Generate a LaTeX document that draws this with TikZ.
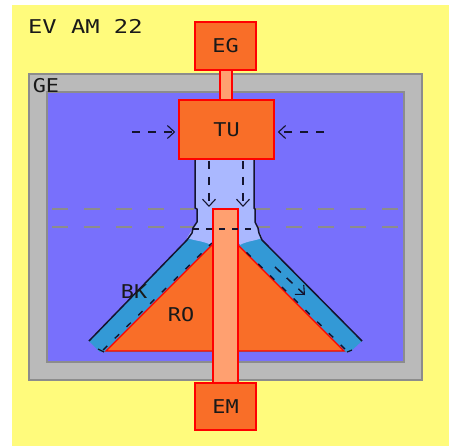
\documentclass[tikz,border=0pt]{standalone}
\usepackage{fontspec}
\usetikzlibrary{arrows.meta}
\newfontfamily\pixfont[FakeStretch=1.15]{DejaVu Sans Mono}
\definecolor{bgY}{HTML}{FFFB7C}
\definecolor{wallF}{HTML}{BABABA}
\definecolor{wallD}{HTML}{8C8C8C}
\definecolor{fieldB}{HTML}{7870FC}
\definecolor{tubeL}{HTML}{AAB8FF}
\definecolor{bandB}{HTML}{3399D6}
\definecolor{orng}{HTML}{F96E28}
\definecolor{salm}{HTML}{FFA070}
\definecolor{inkD}{HTML}{14142E}
\tikzset{
  x=1pt,y=-1pt,
  lbl/.style={font=\pixfont\fontsize{19}{21}\selectfont,text=black!90,inner sep=0pt},
  obox/.style={draw=red,line width=1.6pt,fill=orng,inner sep=0pt,lbl},
  neck/.style={draw=red,line width=1.6pt,fill=salm},
  flow/.style={draw=inkD,line width=1.5pt,dash pattern=on 8pt off 8pt,-{Straight Barb[length=7pt,width=13pt,line width=1.1pt]}},
  gdash/.style={draw=wallD,line width=1.6pt,dash pattern=on 16pt off 16pt},
  sdash/.style={draw=inkD,line width=1.4pt,dash pattern=on 6pt off 10.5pt},
  wallline/.style={draw=inkD,line width=1.5pt,line join=round}
}
\begin{document}
\begin{tikzpicture}
\useasboundingbox (0,0) rectangle (449,446);
\fill[bgY] (12,5) rectangle (449,446);
% wall and field
\draw[draw=wallD,line width=1.4pt,fill=wallF] (29,74) rectangle (422,380);
\draw[draw=wallD,line width=1.4pt,fill=fieldB] (47,92) rectangle (404,362);
% gray dashed levels
\coordinate (g1a) at (52,209); \coordinate (g1b) at (194,209);
\coordinate (g2a) at (52,227); \coordinate (g2b) at (194,227);
\coordinate (g3a) at (398,209); \coordinate (g3b) at (256,209);
\coordinate (g4a) at (398,227); \coordinate (g4b) at (258,227);
\draw[gdash] (g1a) -- (g1b);
\draw[gdash] (g2a) -- (g2b);
\draw[gdash] (g3a) -- (g3b);
\draw[gdash] (g4a) -- (g4b);
% band
\fill[bandB] (89,341) -- (187,240) -- (225,225) -- (262,240) -- (362,341) -- (350,352) -- (100,352) -- cycle;
% tube
\fill[tubeL] (195,159) -- (195,209) -- (197,209) -- (197,222) -- (193,228) -- (187,238)
  .. controls (195,241) and (205,241) .. (213,246) -- (238,246)
  .. controls (246,241) and (255,241) .. (262,238) -- (258,228) -- (255,222) -- (255,209) -- (254,209) -- (254,159) -- cycle;
% outlines
\draw[wallline] (195,159) -- (195,208) -- (197,209) -- (197,222) -- (193,228) -- (192,233) -- (187,240) -- (89,341);
\draw[wallline] (254,159) -- (254,208) -- (255,209) -- (255,222) -- (258,228) -- (259,233) -- (262,240) -- (362,341);
% rotor
\draw[draw=red,line width=1.4pt,fill=orng,line join=miter] (106,351) -- (225,232) -- (344,351) -- cycle;
% band dashes
\coordinate (s1a) at (103,350); \coordinate (s1b) at (212,243);
\coordinate (s2a) at (345,349); \coordinate (s2b) at (237,243);
\draw[sdash] (s1a) -- (s1b);
\draw[sdash] (s2a) -- (s2b);
\coordinate (e1a) at (98,349); \coordinate (e1b) at (104,352);
\coordinate (e2a) at (347,352); \coordinate (e2b) at (352,350);
\draw[draw=inkD,line width=1.2pt] (e1a) -- (e1b);
\draw[draw=inkD,line width=1.2pt] (e2a) -- (e2b);
% necks
\draw[neck] (220,70) rectangle (232,100);
\draw[neck] (213,209) rectangle (238,383);
% boxes
\node[obox,minimum width=61pt,minimum height=48pt] (EG) at (225.5,46) {EG};
\node[obox,minimum width=95pt,minimum height=59pt] (TU) at (226.5,129.5) {TU};
\node[obox,minimum width=61pt,minimum height=47pt] (EM) at (225.5,406.5) {EM};
% texts
\node[lbl,anchor=west] (title) at (28,26) {\addfontfeatures{FakeStretch=1.25}EV AM 22};
\node[lbl] (GE) at (46,85.5) {GE};
\node[lbl] (BK) at (134,291.5) {BK};
\node[lbl] (RO) at (181,315) {RO};
% horizontal dashed in tube
\coordinate (h1) at (193,229); \coordinate (h2) at (258,229);
\draw[draw=inkD,line width=1.4pt,dash pattern=on 6pt off 7pt] (h1) -- (h2);
% flows
\coordinate (f1a) at (132,132); \coordinate (f2a) at (324,132);
\coordinate (f3a) at (209,161); \coordinate (f3b) at (209,207);
\coordinate (f4a) at (243,161); \coordinate (f4b) at (243,207);
\coordinate (f5a) at (275,267); \coordinate (f5b) at (305,295);
\draw[flow,shorten >=3pt] (f1a) -- (TU.west |- f1a);
\draw[flow,shorten >=3pt] (f2a) -- (TU.east |- f2a);
\draw[flow] (f3a) -- (f3b);
\draw[flow] (f4a) -- (f4b);
\draw[flow] (f5a) -- (f5b);
\end{tikzpicture}
\end{document}
